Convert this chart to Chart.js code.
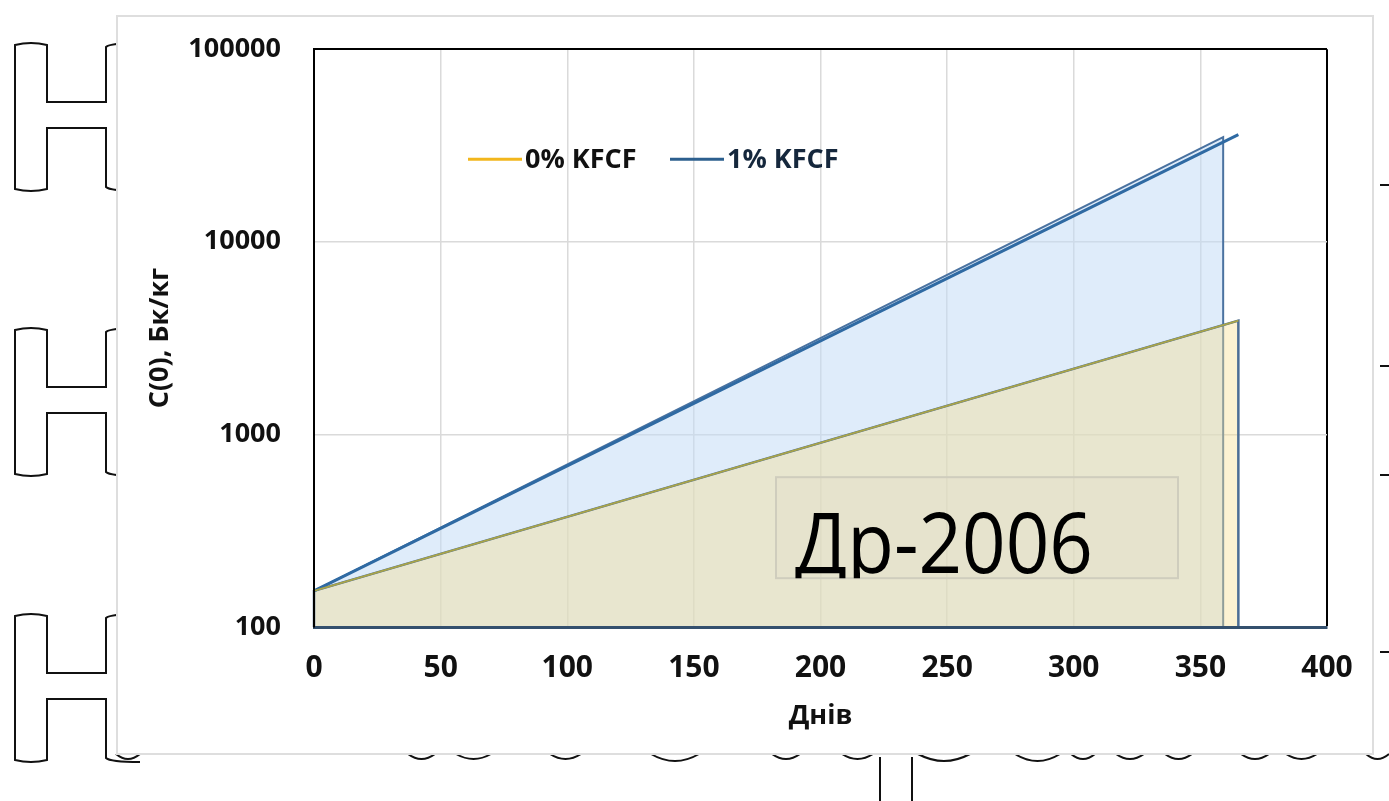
<!DOCTYPE html>
<html>
<head>
<meta charset="utf-8">
<script src="https://cdn.jsdelivr.net/npm/chart.js@4.4.1/dist/chart.umd.min.js"></script>
<style>
  html, body { margin: 0; padding: 0; background: #fff; }
  #wrap { position: relative; width: 1389px; height: 801px; overflow: hidden; }
  #decor { position: absolute; left: 0; top: 0; }
  #panel {
    position: absolute; left: 116px; top: 15px; width: 1258px; height: 740px;
    box-sizing: border-box; background: #fff; border: 2px solid #dedede;
  }
  #chart { position: absolute; left: 0; top: 0; }
</style>
</head>
<body>
<div id="wrap">
  <svg id="decor" width="1389" height="801"></svg>
  <div id="panel"></div>
  <canvas id="chart" width="1389" height="801"></canvas>
</div>
<script>
// --- дані ---
const days = [0, 365];
const kfcf0 = [154, 3900];
const kfcf1 = [154, 36000];

// області під кривими (з вертикальними краями)
const area0Days = [0, 0, 365, 365];
const area0Vals = [100, 154, 3900, 100];
const area1Days = [0, 0, 359, 359];
const area1Vals = [100, 154, 35000, 100];

const seriesNames = ['0% KFCF', '1% KFCF'];
const xTicks = [0, 50, 100, 150, 200, 250, 300, 350, 400];
const yTicks = [100, 1000, 10000, 100000];
const boxLabel = 'Др-2006';

const toXY = (xs, ys) => xs.map((x, i) => ({ x: x, y: ys[i] }));

// --- фонові контури літер ---
function hShape(y0) {
  const h = 148, a = y0 + 59, b = y0 + 85;
  return `M140 ${y0} Q110 ${y0} 106 ${y0 + 4} L106 ${a} L47 ${a} L47 ${y0 + 2} Q31 ${y0 - 2} 15 ${y0 + 2} ` +
         `L15 ${y0 + h - 2} Q31 ${y0 + h + 2} 47 ${y0 + h - 2} L47 ${b} L106 ${b} L106 ${y0 + h - 4} Q110 ${y0 + h} 140 ${y0 + h}`;
}
const arcs = [[116, 140, 5], [408, 435, 5], [456, 491, 5], [550, 581, 5], [651, 699, 7], [772, 800, 5],
              [842, 873, 5], [918, 970, 7], [1015, 1060, 7], [1071, 1095, 5], [1116, 1144, 5],
              [1165, 1192, 5], [1241, 1269, 5], [1286, 1317, 5], [1366, 1389, 5]];
let svg = '';
[43, 328, 614].forEach(y0 => { svg += `<path d="${hShape(y0)}"/>`; });
arcs.forEach(([a, b, d]) => { svg += `<path d="M${a} 754 Q${(a + b) / 2} ${754 + d * 2} ${b} 754"/>`; });
svg += '<path d="M880 757 L880 801 M912 757 L912 801"/>';
[185, 366, 475, 652].forEach(y => { svg += `<path d="M1380 ${y} L1389 ${y}"/>`; });
const decor = document.getElementById('decor');
decor.innerHTML = `<g fill="none" stroke="#111" stroke-width="2">${svg}</g>`;

// --- легенда всередині області графіка ---
const innerLegend = {
  id: 'innerLegend',
  afterDatasetsDraw(chart) {
    const { ctx, chartArea } = chart;
    const y = chartArea.top + 110;
    let x = chartArea.left + 154;
    ctx.save();
    ctx.font = 'bold 27px "Open Sans"';
    ctx.textBaseline = 'middle';
    chart.data.datasets.forEach(ds => {
      if (!ds.legendColor) return;
      ctx.strokeStyle = ds.legendColor;
      ctx.lineWidth = 3;
      ctx.beginPath();
      ctx.moveTo(x, y);
      ctx.lineTo(x + 54, y);
      ctx.stroke();
      ctx.fillStyle = ds.legendText;
      ctx.fillText(ds.label, x + 57, y + 1);
      x += 202;
    });
    ctx.restore();
  }
};

// --- рамка з підписом ---
const labelBox = {
  id: 'labelBox',
  afterDatasetsDraw(chart) {
    const { ctx, chartArea } = chart;
    const bx = chartArea.left + 462, by = chartArea.top + 428, bw = 402, bh = 101;
    ctx.save();
    ctx.fillStyle = 'rgba(225, 222, 200, 0.35)';
    ctx.fillRect(bx, by, bw, bh);
    ctx.strokeStyle = '#cfcdbd';
    ctx.lineWidth = 2;
    ctx.strokeRect(bx, by, bw, bh);
    ctx.beginPath();
    ctx.rect(bx, by, bw, bh);
    ctx.clip();
    ctx.font = '84px "Open Sans"';
    ctx.fillStyle = '#000';
    ctx.textBaseline = 'alphabetic';
    const w = ctx.measureText(boxLabel).width;
    ctx.translate(bx + 19, by + 96);
    ctx.scale(298 / w, 1);
    ctx.fillText(boxLabel, 0, 0);
    ctx.restore();
  }
};

const ctx = document.getElementById('chart').getContext('2d');
new Chart(ctx, {
  type: 'line',
  data: {
    datasets: [
      {
        label: seriesNames[0],
        data: toXY(days, kfcf0),
        borderColor: '#a9a448',
        borderWidth: 1.8,
        pointRadius: 0,
        fill: false,
        clip: false,
        order: 0,
        legendColor: '#f2b61c',
        legendText: '#111111'
      },
      {
        label: seriesNames[1],
        data: toXY(days, kfcf1),
        borderColor: '#2f6aa3',
        borderWidth: 3,
        pointRadius: 0,
        fill: false,
        clip: false,
        order: 1,
        legendColor: '#2c5f8e',
        legendText: '#15273c'
      },
      {
        label: 'area0',
        data: toXY(area0Days, area0Vals),
        borderColor: '#4d6e95',
        borderWidth: 2.5,
        backgroundColor: 'rgba(248, 222, 143, 0.4)',
        pointRadius: 0,
        fill: 'start',
        clip: false,
        order: 2
      },
      {
        label: 'area1',
        data: toXY(area1Days, area1Vals),
        borderColor: '#4a72a0',
        borderWidth: 2,
        backgroundColor: 'rgba(196, 220, 245, 0.55)',
        pointRadius: 0,
        fill: 'start',
        clip: false,
        order: 3
      }
    ]
  },
  options: {
    responsive: false,
    devicePixelRatio: 1,
    animation: false,
    layout: { padding: { top: 47, right: 62, bottom: 0, left: 0 } },
    plugins: {
      legend: { display: false },
      tooltip: { enabled: false }
    },
    scales: {
      x: {
        type: 'linear',
        min: 0,
        max: 400,
        afterFit: s => { s.height = 174; },
        afterBuildTicks: s => { s.ticks = xTicks.map(v => ({ value: v })); },
        ticks: {
          padding: 23,
          color: '#111',
          font: { family: 'Open Sans', size: 30, weight: 'bold' },
          callback: v => String(v)
        },
        grid: {
          drawTicks: false,
          color: c => (c.tick && c.tick.value === 400 ? '#000' : '#dadada'),
          lineWidth: c => (c.tick && c.tick.value === 400 ? 2 : 1.5)
        },
        border: { display: true, color: '#34506e', width: 3, z: 1 },
        title: {
          display: true,
          text: 'Днів',
          color: '#111',
          font: { family: 'Open Sans', size: 27, weight: 'bold' },
          padding: { top: 0, bottom: 68 }
        }
      },
      y: {
        type: 'logarithmic',
        min: 100,
        max: 100000,
        afterFit: s => { s.width = 314; },
        afterBuildTicks: s => { s.ticks = yTicks.map(v => ({ value: v })); },
        ticks: {
          padding: 33,
          color: '#111',
          font: { family: 'Open Sans', size: 27, weight: 'bold' },
          callback: v => String(v)
        },
        grid: {
          drawTicks: false,
          color: c => (c.tick && c.tick.value === 100000 ? '#000' : '#dadada'),
          lineWidth: c => (c.tick && c.tick.value === 100000 ? 2 : 1.5)
        },
        border: { display: true, color: '#000', width: 2, z: 1 },
        title: {
          display: true,
          text: 'C(0), Бк/кг',
          color: '#111',
          font: { family: 'Open Sans', size: 27, weight: 'bold' },
          padding: { top: 144, bottom: 0 }
        }
      }
    }
  },
  plugins: [labelBox, innerLegend]
});
</script>
</body>
</html>
